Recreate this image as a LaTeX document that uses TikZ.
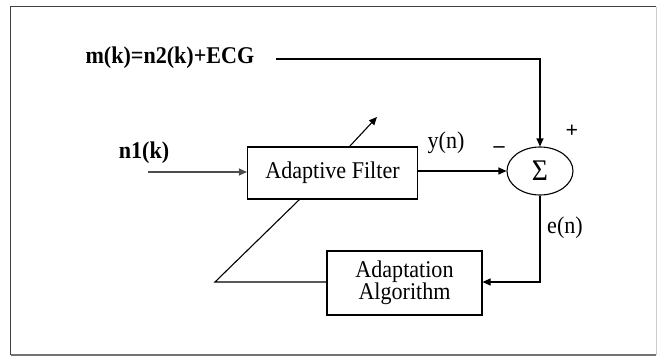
\documentclass[tikz,border=0pt]{standalone}
\usepackage{fontspec}
\usepackage{graphicx}
\setmainfont{Liberation Serif}
\usetikzlibrary{arrows.meta,shapes.geometric}
\newcommand{\nt}[1]{\scalebox{0.92}[1]{#1}}
\begin{document}
\begin{tikzpicture}[x=1pt,y=-1pt,
  line width=1.1pt,
  >={Triangle[length=8pt,width=7pt]},
  blk/.style={draw,line width=1.1pt,inner sep=0pt,font=\fontsize{24}{25}\selectfont},
  lbl/.style={inner sep=0pt,font=\fontsize{24}{25}\selectfont},
  blbl/.style={inner sep=0pt,font=\fontsize{24}{25}\selectfont\bfseries},
  sgn/.style={inner sep=0pt,font=\fontsize{22}{24}\selectfont\bfseries}]
\useasboundingbox (0,0) rectangle (657,356);
% frame
\draw[line width=1.3pt,color=black!75] (10.5,355) -- (10.5,6.5) -- (656,6.5);
\draw[line width=1pt,color=black!20] (656,6.5) -- (656,355);
\draw[line width=1.3pt,color=black!55] (10.5,355) -- (656,355);
% blocks
\node[blk,minimum width=170pt,minimum height=52pt] (af) at (332.5,173) {\nt{Adaptive Filter}};
\node[blk,minimum width=155pt,minimum height=64pt] (aa) at (404.5,283) {\nt{\begin{tabular}{@{}c@{}}Adaptation\\[-3pt]Algorithm\end{tabular}}};
\node[draw,ellipse,line width=1.1pt,minimum width=66pt,minimum height=48pt,inner sep=0pt] (sum) at (540,171) {\fontsize{30}{30}\selectfont\nt{Σ}};
% labels
\node[blbl,anchor=west] (mk) at (85,58) {\nt{m(k)=n2(k)+ECG}};
\node[blbl] (n1) at (144,153) {\nt{n1(k)}};
\node[lbl] (yn) at (446,143) {\nt{y(n)}};
\node[lbl] (en) at (565,228) {\nt{e(n)}};
\node[sgn] (minus) at (499,150) {\textendash};
\node[sgn] (plus) at (572,131) {+};
% coordinates
\coordinate (mstart) at (276,59);
\coordinate (mcorner) at (540,59);
\coordinate (nstart) at (148,172);
\coordinate (ecorner) at (540,282);
\coordinate (kink) at (215,282);
\coordinate (dtop) at (300,199);
\coordinate (arrA) at (350,146);
\coordinate (arrB) at (377,117);
% connectors
\draw[->] (mstart) -- (mcorner) -- (sum.north);
\draw[->,color=black!70] (nstart) -- (af.west |- nstart);
\draw[->] (af.east |- sum.west) -- (sum.west);
\draw[->] (sum.south) -- (ecorner) -- (aa.east |- ecorner);
\draw (aa.west |- kink) -- (kink) -- (dtop);
\draw[->] (arrA) -- (arrB);
\end{tikzpicture}
\end{document}
